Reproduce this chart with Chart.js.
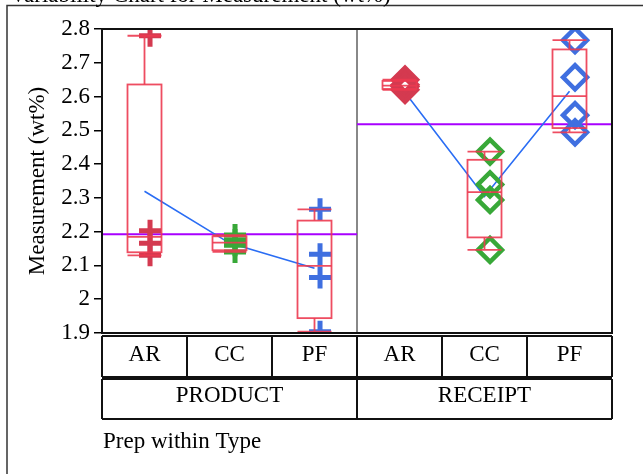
<!DOCTYPE html>
<html>
<head>
<meta charset="utf-8">
<script src="https://cdn.jsdelivr.net/npm/chart.js@4"></script>
<style>
html, body { margin: 0; padding: 0; background: #fff; }
#wrap { position: relative; width: 643px; height: 474px; }
</style>
</head>
<body>
<div id="wrap"><canvas id="varChart" width="643" height="474"></canvas></div>
<script>
var preps = ['AR', 'CC', 'PF', 'AR', 'CC', 'PF'];
var types = ['PRODUCT', 'RECEIPT'];
var productAR = [2.78, 2.203, 2.166, 2.13];
var productCC = [2.19, 2.175, 2.16, 2.14];
var productPF = [2.266, 2.133, 2.064, 1.904];
var receiptAR = [2.65, 2.635, 2.63, 2.62];
var receiptCC = [2.437, 2.34, 2.294, 2.146];
var receiptPF = [2.767, 2.657, 2.545, 2.494];
var yTicks = [1.9, 2.0, 2.1, 2.2, 2.3, 2.4, 2.5, 2.6, 2.7, 2.8];
var yTickLabels = ['1.9', '2', '2.1', '2.2', '2.3', '2.4', '2.5', '2.6', '2.7', '2.8'];

var cells = [productAR, productCC, productPF, receiptAR, receiptCC, receiptPF];
var FONT = 'Liberation Serif';
var pointShift = 0.065; // points sit a little right of the box centre

function mean(arr) {
  var s = 0;
  arr.forEach(function(v) { s += v; });
  return s / arr.length;
}

// JMP style quantiles, position p*(n+1)
function quantile(arr, p) {
  var s = arr.slice().sort(function(a, b) { return a - b; });
  var pos = p * (s.length + 1) - 1;
  if (pos <= 0) return s[0];
  if (pos >= s.length - 1) return s[s.length - 1];
  var lo = Math.floor(pos);
  return s[lo] + (pos - lo) * (s[lo + 1] - s[lo]);
}

function pointsFor(i) {
  return cells[i].map(function(v) { return { x: i + 0.5 + pointShift, y: v }; });
}

function meanLine(start) {
  var out = [];
  for (var i = start; i < start + 3; i++) out.push({ x: i + 0.5, y: mean(cells[i]) });
  return out;
}

var productMean = mean(productAR.concat(productCC, productPF));
var receiptMean = mean(receiptAR.concat(receiptCC, receiptPF));

var red = '#d43a50', green = '#38a838', blue = '#3f6fe0';

var datasets = [
  { data: pointsFor(0), pointStyle: 'cross', pointRadius: 11, borderColor: red, pointBorderWidth: 5, showLine: false },
  { data: pointsFor(1), pointStyle: 'cross', pointRadius: 11, borderColor: green, pointBorderWidth: 5, showLine: false },
  { data: pointsFor(2), pointStyle: 'cross', pointRadius: 11, borderColor: blue, pointBorderWidth: 5, showLine: false },
  { data: pointsFor(3), pointStyle: 'rectRot', pointRadius: 12, borderColor: red, backgroundColor: 'rgba(0,0,0,0)', pointBorderWidth: 4.5, showLine: false },
  { data: pointsFor(4), pointStyle: 'rectRot', pointRadius: 12, borderColor: green, backgroundColor: 'rgba(0,0,0,0)', pointBorderWidth: 4.5, showLine: false },
  { data: pointsFor(5), pointStyle: 'rectRot', pointRadius: 12, borderColor: blue, backgroundColor: 'rgba(0,0,0,0)', pointBorderWidth: 4.5, showLine: false },
  { data: meanLine(0), showLine: true, borderColor: '#2a6df4', borderWidth: 1.6, pointRadius: 0 },
  { data: meanLine(3), showLine: true, borderColor: '#2a6df4', borderWidth: 1.6, pointRadius: 0 },
  { data: [{ x: 0, y: productMean }, { x: 3, y: productMean }], showLine: true, borderColor: '#a800ff', borderWidth: 2, pointRadius: 0 },
  { data: [{ x: 3, y: receiptMean }, { x: 6, y: receiptMean }], showLine: true, borderColor: '#a800ff', borderWidth: 2, pointRadius: 0 }
];

var varPlugin = {
  id: 'varPlugin',
  beforeDatasetsDraw: function(chart) {
    var ctx = chart.ctx, a = chart.chartArea, xs = chart.scales.x;
    ctx.save();
    ctx.strokeStyle = '#888';
    ctx.lineWidth = 2;
    ctx.beginPath();
    ctx.moveTo(xs.getPixelForValue(3), a.top);
    ctx.lineTo(xs.getPixelForValue(3), a.bottom);
    ctx.stroke();
    ctx.restore();
  },
  afterDatasetsDraw: function(chart) {
    var ctx = chart.ctx, xs = chart.scales.x, ys = chart.scales.y;
    ctx.save();
    ctx.strokeStyle = 'rgba(236,58,80,0.9)';
    ctx.lineWidth = 1.8;
    cells.forEach(function(vals, i) {
      var xc = xs.getPixelForValue(i + 0.5);
      var l = xc - 17, r = xc + 17;
      var y1 = ys.getPixelForValue(quantile(vals, 0.25));
      var y3 = ys.getPixelForValue(quantile(vals, 0.75));
      var ym = ys.getPixelForValue(quantile(vals, 0.5));
      var yLo = ys.getPixelForValue(Math.min.apply(null, vals));
      var yHi = ys.getPixelForValue(Math.max.apply(null, vals));
      ctx.strokeRect(l, y3, r - l, y1 - y3);
      ctx.beginPath();
      ctx.moveTo(l, ym); ctx.lineTo(r, ym);
      ctx.moveTo(xc, y3); ctx.lineTo(xc, yHi);
      ctx.moveTo(xc, y1); ctx.lineTo(xc, yLo);
      ctx.moveTo(l, yHi); ctx.lineTo(r, yHi);
      ctx.moveTo(l, yLo); ctx.lineTo(r, yLo);
      ctx.stroke();
    });
    ctx.restore();
  },
  afterDraw: function(chart) {
    var ctx = chart.ctx, a = chart.chartArea, xs = chart.scales.x;
    ctx.save();
    // plot frame
    ctx.strokeStyle = '#111';
    ctx.lineWidth = 2;
    ctx.strokeRect(a.left, a.top, a.right - a.left, a.bottom - a.top);

    // Prep / Type table under the plot
    var r1t = a.bottom + 3, r1b = a.bottom + 44;
    var r2t = a.bottom + 46, r2b = a.bottom + 86;
    ctx.beginPath();
    ctx.moveTo(a.left, r1t); ctx.lineTo(a.right, r1t);
    ctx.moveTo(a.left, r1b); ctx.lineTo(a.right, r1b);
    ctx.moveTo(a.left, r2t); ctx.lineTo(a.right, r2t);
    ctx.moveTo(a.left, r2b); ctx.lineTo(a.right, r2b);
    for (var i = 0; i <= 6; i++) {
      var x = xs.getPixelForValue(i);
      ctx.moveTo(x, r1t); ctx.lineTo(x, r1b);
      if (i % 3 === 0) { ctx.moveTo(x, r2t); ctx.lineTo(x, r2b); }
    }
    ctx.stroke();

    ctx.fillStyle = '#000';
    ctx.font = '23px "' + FONT + '"';
    ctx.textAlign = 'center';
    ctx.textBaseline = 'alphabetic';
    preps.forEach(function(p, i) {
      ctx.fillText(p, xs.getPixelForValue(i + 0.5), r1t + 25);
    });
    types.forEach(function(t, i) {
      ctx.fillText(t, xs.getPixelForValue(i * 3 + 1.5), r2t + 23);
    });
    ctx.textAlign = 'left';
    ctx.fillText('Prep within Type', a.left + 1, r2b + 29);

    // outer report frame and clipped title
    ctx.strokeStyle = '#333';
    ctx.lineWidth = 1.5;
    ctx.beginPath();
    ctx.moveTo(7, chart.height); ctx.lineTo(7, 5.5); ctx.lineTo(chart.width, 5.5);
    ctx.stroke();
    ctx.fillText('Variability Chart for Measurement (wt%)', 10, 2);
    ctx.restore();
  }
};

new Chart(document.getElementById('varChart').getContext('2d'), {
  type: 'scatter',
  data: { datasets: datasets },
  plugins: [varPlugin],
  options: {
    responsive: false,
    animation: false,
    devicePixelRatio: 1,
    events: [],
    layout: { padding: { left: 0, top: 29, right: 31, bottom: 141 } },
    plugins: { legend: { display: false }, tooltip: { enabled: false } },
    scales: {
      x: { type: 'linear', min: 0, max: 6, display: false },
      y: {
        min: 1.9,
        max: 2.8,
        afterBuildTicks: function(scale) {
          scale.ticks = yTicks.map(function(v) { return { value: v }; });
        },
        afterFit: function(scale) { scale.width = 102; },
        ticks: {
          autoSkip: false,
          padding: 4,
          color: '#000',
          font: { family: FONT, size: 23 },
          callback: function(v, i) { return yTickLabels[i]; }
        },
        grid: { drawOnChartArea: false, drawTicks: true, tickLength: 8, color: '#000', lineWidth: 1.5 },
        border: { display: false },
        title: {
          display: true,
          text: 'Measurement (wt%)',
          color: '#000',
          font: { family: FONT, size: 23 },
          padding: { top: 24, bottom: 0 }
        }
      }
    }
  }
});
</script>
</body>
</html>
